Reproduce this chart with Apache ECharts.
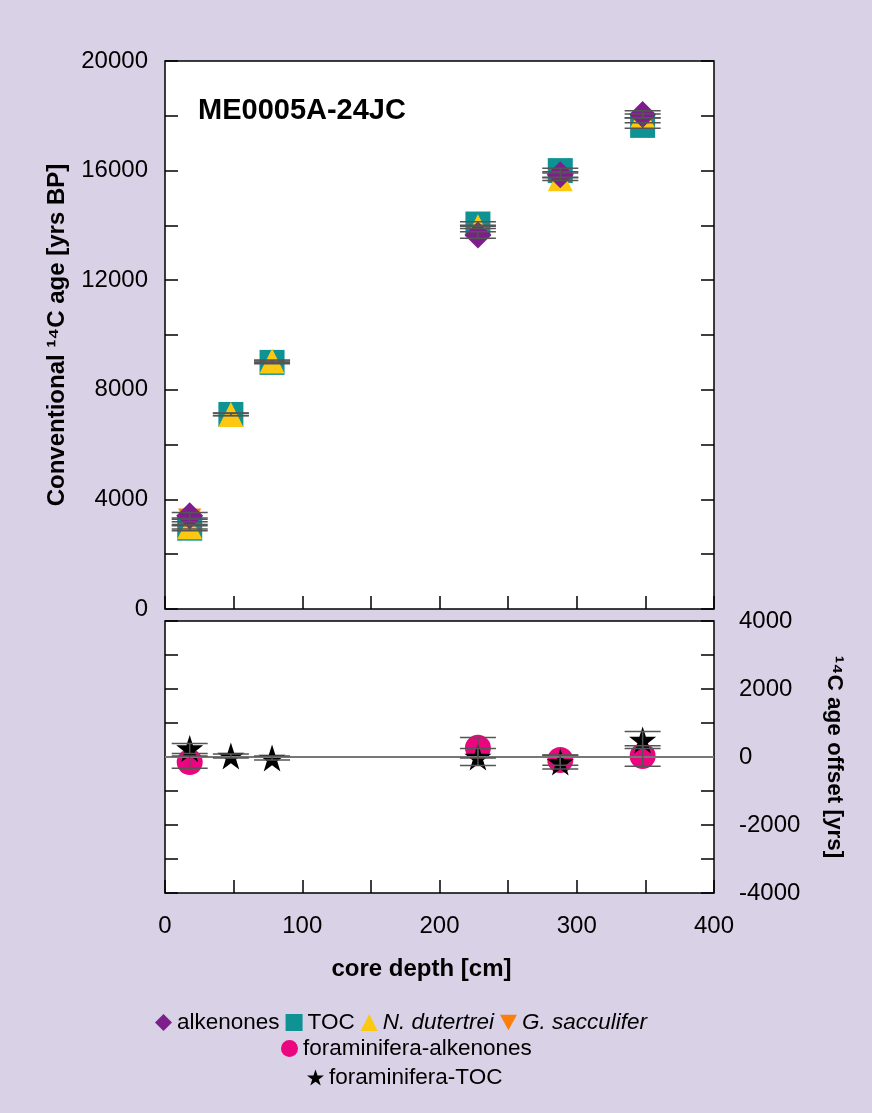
<!DOCTYPE html>
<html lang="en">
<head>
    <meta charset="UTF-8">
    <title>ME0005A-24JC</title>
    <style>
      * { padding: 0; margin: 0; }
      body { background: #d9d1e6; }
    </style>
</head>
<body>
    <div id="main" style="width: 872px;height:1113px;"></div>
    <script src="https://cdn.jsdelivr.net/npm/echarts@6/dist/echarts.min.js"></script>
    <script>
    // top panel: conventional 14C ages  [depth cm, age yrs]
    var alkenones = [[18, 3400], [228, 13650], [288, 15850], [348, 18050]];
    var alkenonesErr = [120, 120, 110, 130];
    var toc = [[18, 2950], [48, 7100], [78, 9000], [228, 14050], [288, 16000], [348, 17650]];
    var tocErr = [90, 50, 50, 80, 90, 100];
    var dutertrei = [[18, 3000], [48, 7100], [78, 9050], [228, 13950], [288, 15700], [348, 18000]];
    var dutertreiErr = [80, 40, 40, 60, 60, 70];
    var sacculifer = [[18, 3250]];
    var sacculiferErr = [70];

    // bottom panel: age offsets  [depth cm, offset yrs]
    var foramAlk = [[18, -150], [228, 270], [288, -90], [348, 30]];
    var foramAlkErr = [180, 300, 150, 300];
    var foramToc = [[18, 250], [48, 30], [78, -30], [228, 0], [288, -150], [348, 500]];
    var foramTocErr = [150, 60, 60, 250, 200, 250];

    var topTicks = [0, 4000, 8000, 12000, 16000, 20000];
    var offsetTicks = [-4000, -2000, 0, 2000, 4000];

    var star = 'path://M50,0 L61.8,35.1 L98.9,35.1 L68.9,56.9 L80.3,91.9 L50,70.3 L19.7,91.9 L31.1,56.9 L1.1,35.1 L38.2,35.1 Z';
    var downTri = 'path://M0,0 L100,0 L50,90 Z';
    var font = 'Liberation Sans, Arial, sans-serif';

    function errBars(points, errs, gi) {
        return {
            type: 'custom',
            xAxisIndex: gi, yAxisIndex: gi * 2,
            z: 10, silent: true,
            data: points.map(function (p, i) { return [p[0], p[1], errs[i]]; }),
            renderItem: function (params, api) {
                var x = api.value(0), y = api.value(1), e = api.value(2);
                var lo = api.coord([x, y - e]), hi = api.coord([x, y + e]);
                var hw = 18;
                var st = { stroke: '#555', lineWidth: 1.5 };
                return {
                    type: 'group',
                    children: [
                        { type: 'line', shape: { x1: lo[0], y1: lo[1], x2: hi[0], y2: hi[1] }, style: st },
                        { type: 'line', shape: { x1: lo[0] - hw, y1: lo[1], x2: lo[0] + hw, y2: lo[1] }, style: st },
                        { type: 'line', shape: { x1: hi[0] - hw, y1: hi[1], x2: hi[0] + hw, y2: hi[1] }, style: st }
                    ]
                };
            }
        };
    }

    var tick = { show: true, inside: true, length: 13, lineStyle: { color: '#000', width: 1.5 } };
    var noLine = { show: false, onZero: false };
    var labelFont = { fontFamily: font, fontSize: 24, color: '#000' };
    var nameFont = { fontFamily: font, fontSize: 24, fontWeight: 'bold', color: '#000' };

    var italics = ['N. dutertrei', 'G. sacculifer'];
    function legendFmt(name) {
        return italics.indexOf(name) >= 0 ? '{i|' + name + '}' : name;
    }
    var legendBase = {
        padding: 0, itemWidth: 17, itemHeight: 17, itemGap: 6,
        formatter: legendFmt,
        textStyle: { fontFamily: font, fontSize: 22.5, color: '#000',
            rich: { i: { fontFamily: font, fontSize: 22.5, fontStyle: 'italic', color: '#000' } } }
    };

    var option = {
        backgroundColor: '#d9d1e6',
        animation: false,
        title: {
            text: 'ME0005A-24JC', left: 193, top: 91,
            textStyle: { fontFamily: font, fontSize: 29, fontWeight: 'bold', color: '#000' }
        },
        legend: [
            Object.assign({}, legendBase, { left: 155, top: 1011, data: ['alkenones', 'TOC', 'N. dutertrei', 'G. sacculifer'] }),
            Object.assign({}, legendBase, { left: 281, top: 1037, data: ['foraminifera-alkenones'] }),
            Object.assign({}, legendBase, { left: 307, top: 1066, data: ['foraminifera-TOC'] })
        ],
        grid: [
            { left: 165, top: 61, width: 549, height: 548, show: true, backgroundColor: '#fff', borderColor: '#000', borderWidth: 1.5 },
            { left: 165, top: 621, width: 549, height: 272, show: true, backgroundColor: '#fff', borderColor: '#000', borderWidth: 1.5 }
        ],
        xAxis: [
            { gridIndex: 0, type: 'value', min: 0, max: 400, interval: 50,
              axisLine: noLine, axisTick: tick, axisLabel: { show: false }, splitLine: { show: false } },
            { gridIndex: 1, type: 'value', min: 0, max: 400, interval: 50,
              axisLine: noLine, axisTick: tick, splitLine: { show: false },
              axisLabel: Object.assign({ margin: 21, formatter: function (v) { return v % 100 === 0 ? v : ''; } }, labelFont),
              name: 'core depth [cm]', nameLocation: 'middle', nameGap: 64,
              nameTextStyle: Object.assign({ padding: [0, 36, 0, 0] }, nameFont) }
        ],
        yAxis: [
            { gridIndex: 0, type: 'value', position: 'left', min: 0, max: 20000, interval: 2000,
              axisLine: noLine, axisTick: tick, splitLine: { show: false },
              axisLabel: Object.assign({ margin: 17, formatter: function (v) { return topTicks.indexOf(v) >= 0 ? v : ''; } }, labelFont),
              name: 'Conventional \u00b9\u2074C age [yrs BP]', nameLocation: 'middle', nameGap: 96, nameTextStyle: nameFont },
            { gridIndex: 0, type: 'value', position: 'right', min: 0, max: 20000, interval: 2000,
              axisLine: noLine, axisTick: tick, axisLabel: { show: false }, splitLine: { show: false } },
            { gridIndex: 1, type: 'value', position: 'left', min: -4000, max: 4000, interval: 1000,
              axisLine: noLine, axisTick: tick, axisLabel: { show: false }, splitLine: { show: false } },
            { gridIndex: 1, type: 'value', position: 'right', min: -4000, max: 4000, interval: 1000,
              axisLine: noLine, axisTick: tick, splitLine: { show: false },
              axisLabel: Object.assign({ margin: 25, formatter: function (v) { return offsetTicks.indexOf(v) >= 0 ? v : ''; } }, labelFont),
              name: '\u00b9\u2074C age offset [yrs]', nameLocation: 'middle', nameGap: 109, nameRotate: -90,
              nameTextStyle: Object.assign({}, nameFont, { fontSize: 22.5 }) }
        ],
        series: [
            { name: 'TOC', type: 'scatter', xAxisIndex: 0, yAxisIndex: 0, data: toc,
              symbol: 'rect', symbolSize: 25, itemStyle: { color: '#0e9293', opacity: 1 } },
            { name: 'N. dutertrei', type: 'scatter', xAxisIndex: 0, yAxisIndex: 0, data: dutertrei,
              symbol: 'triangle', symbolSize: 25, itemStyle: { color: '#fcc812', opacity: 1 } },
            { name: 'G. sacculifer', type: 'scatter', xAxisIndex: 0, yAxisIndex: 0, data: sacculifer,
              symbol: downTri, symbolSize: 23, itemStyle: { color: '#fb7f0a', opacity: 1 } },
            { name: 'alkenones', type: 'scatter', xAxisIndex: 0, yAxisIndex: 0, data: alkenones,
              symbol: 'diamond', symbolSize: 27, itemStyle: { color: '#7e1e8c', opacity: 1 } },
            { name: 'foraminifera-alkenones', type: 'scatter', xAxisIndex: 1, yAxisIndex: 2, data: foramAlk,
              symbol: 'circle', symbolSize: 26, itemStyle: { color: '#e9067f', opacity: 1 },
              markLine: { silent: true, symbol: 'none', label: { show: false },
                  lineStyle: { color: '#777', width: 2, type: 'solid' }, data: [{ yAxis: 0 }] } },
            { name: 'foraminifera-TOC', type: 'scatter', xAxisIndex: 1, yAxisIndex: 2, data: foramToc,
              symbol: star, symbolSize: 27, itemStyle: { color: '#000', opacity: 1 } },
            errBars(toc, tocErr, 0),
            errBars(dutertrei, dutertreiErr, 0),
            errBars(sacculifer, sacculiferErr, 0),
            errBars(alkenones, alkenonesErr, 0),
            errBars(foramAlk, foramAlkErr, 1),
            errBars(foramToc, foramTocErr, 1)
        ]
    };

    var myChart = echarts.init(document.getElementById('main'));
    myChart.setOption(option);
    </script>
</body>
</html>
